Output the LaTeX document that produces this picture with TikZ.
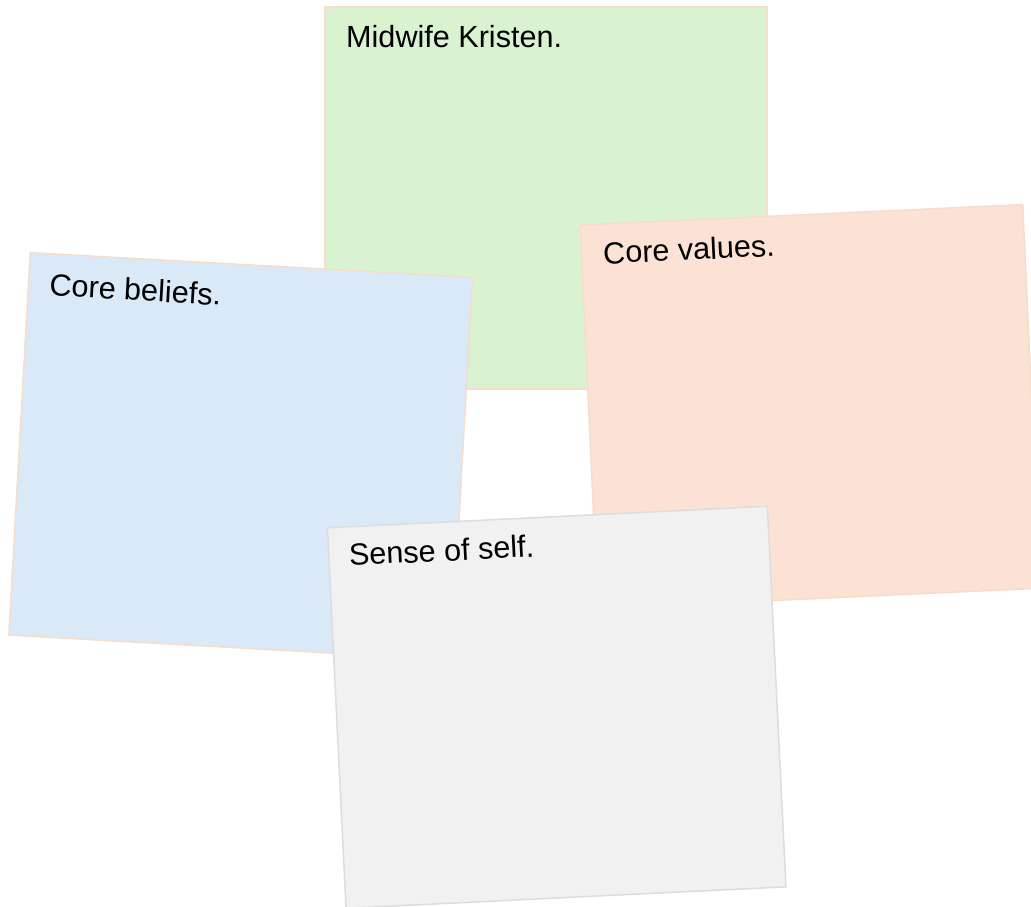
\documentclass[tikz,border=0pt]{standalone}
\usepackage{fontspec}
\setmainfont{Liberation Sans}
\definecolor{greenC}{HTML}{D9F2D0}
\definecolor{blueC}{HTML}{DAE9F7}
\definecolor{orangeC}{HTML}{FBE2D5}
\definecolor{grayC}{HTML}{F1F1F1}
\definecolor{peachLine}{HTML}{F8DCCB}
\definecolor{grayLine}{HTML}{DDDDDD}
\tikzset{
  note/.style={draw=peachLine, line width=1.5pt, inner sep=0pt, outer sep=0pt},
  notetext/.style={anchor=base west, inner sep=0pt, font=\fontsize{30.6}{36}\selectfont, text=black}
}
\begin{document}
\begin{tikzpicture}[x=1pt,y=1pt]
\useasboundingbox[fill=white] (0,0) rectangle (1031,-907);
% green
\begin{scope}[shift={(546,-198)}]
  \node[note, fill=greenC, minimum width=442pt, minimum height=382pt] (green) at (0,0) {};
  \node[notetext] (greent) at (-221+21,191-41) {Midwife Kristen.};
\end{scope}
% blue
\begin{scope}[shift={(240.7,-456.2)}, rotate=-3.2, transform shape]
  \node[note, fill=blueC, minimum width=443pt, minimum height=383pt] (blue) at (0,0) {};
  \node[notetext] (bluet) at (-221.5+21,191.5-42) {Core beliefs.};
\end{scope}
% orange
\begin{scope}[shift={(810.3,-406.6)}, rotate=2.65, transform shape]
  \node[note, fill=orangeC, minimum width=443pt, minimum height=384pt] (orange) at (0,0) {};
  \node[notetext] (oranget) at (-221.5+21.5,192-40) {Core values.};
\end{scope}
% gray
\begin{scope}[shift={(556.7,-707.3)}, rotate=2.8, transform shape]
  \node[note, draw=grayLine, fill=grayC, minimum width=440.5pt, minimum height=381pt] (gray) at (0,0) {};
  \node[notetext] (grayt) at (-220.25+20,190.5-39) {Sense of self.};
\end{scope}
\end{tikzpicture}
\end{document}
